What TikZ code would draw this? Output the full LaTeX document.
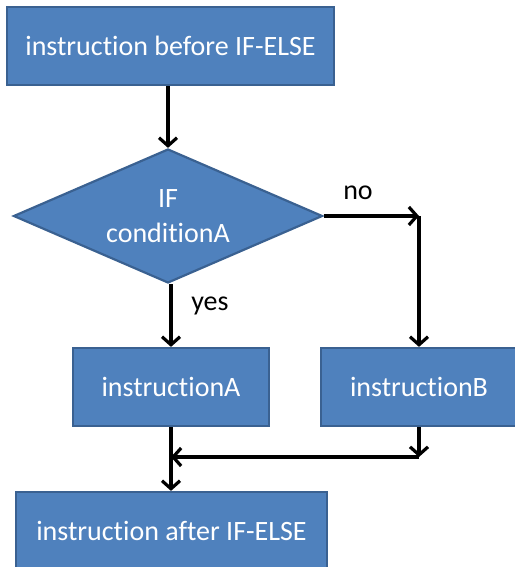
\documentclass[tikz,border=0pt]{standalone}
\usepackage{fontspec}
\setmainfont[Ligatures=NoCommon]{Carlito}
\usepackage{tikz}
\usetikzlibrary{arrows.meta,shapes.geometric}
\definecolor{boxblue}{HTML}{4F81BD}
\definecolor{boxline}{HTML}{3A6191}
\tikzstyle{block}=[rectangle, draw=boxline, fill=boxblue, line width=2.2pt, text=white, font=\fontsize{28}{32}\selectfont]
\tikzstyle{decision}=[diamond, draw=boxline, fill=boxblue, line width=2.2pt, text=white, inner sep=0pt, align=center, font=\fontsize{28}{35}\selectfont]
\tikzstyle{flow}=[line width=3.2pt, -{Straight Barb[length=8pt,width=18pt,line width=3.2pt]}]
\newcommand{\block}{\node[block]}

\begin{document}
\begin{tikzpicture}[x=1pt,y=-1pt]
	\useasboundingbox (0,0) rectangle (514,567);
	\block[minimum width=327pt, minimum height=78pt](before) at (170.5,46) {instruction before IF-ELSE};
	\node[decision, minimum width=309pt, minimum height=134pt, aspect=2.3](cond) at (168,216) {IF\\conditionA};
	\block[minimum width=196pt, minimum height=78pt](instA) at (171,387) {instructionA};
	\block[minimum width=196pt, minimum height=78pt](instB) at (419,387) {instructionB};
	\block[minimum width=311pt, minimum height=78pt](after) at (171.5,531) {instruction after IF-ELSE};
	\coordinate (noturn) at (419,216);
	\coordinate (join) at (419,457);
	\coordinate (merge) at (171,457);
	\draw[flow] (before.south -| cond.north) -- (cond.north);
	\draw[flow] (cond.east) -- (noturn);
	\draw[flow] (noturn) -- (instB.north);
	\draw[flow] (instA.north |- cond.south) -- (instA.north);
	\draw[flow] (instA.south) -- (after.north -| instA.south);
	\draw[flow] (instB.south) -- (join);
	\draw[flow] (join) -- (merge);
	\node[font=\fontsize{28}{32}\selectfont](no) at (358,193) {no};
	\node[font=\fontsize{28}{32}\selectfont](yes) at (210,306) {yes};
\end{tikzpicture}
\end{document}
